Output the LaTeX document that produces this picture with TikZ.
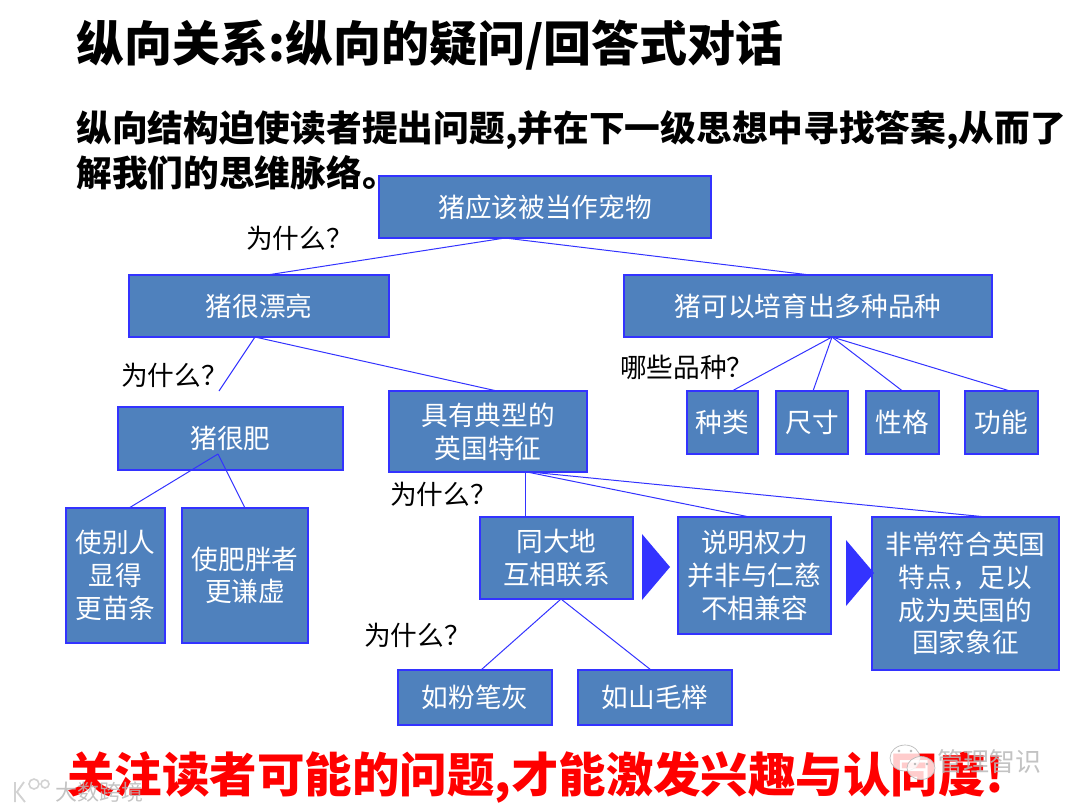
\documentclass[tikz,border=0pt]{standalone}
\usepackage{fontspec}
\setmainfont{Noto Sans CJK SC}
\newfontfamily\heavy{Noto Sans CJK SC Black}
\usetikzlibrary{calc}
\definecolor{boxfill}{HTML}{4F81BD}
\definecolor{boxline}{HTML}{3333FF}
\definecolor{wmline}{HTML}{B8B8B8}
\newcommand{\fs}[2]{\fontsize{#1}{#2}\selectfont}
\tikzset{
  bx/.style={draw=boxline,line width=0.8pt,fill=boxfill,text=white,align=center,inner sep=0pt,outer sep=0pt,font=\fs{20}{24.5}},
  link/.style={draw=boxline,line width=0.75pt},
  ask/.style={anchor=west,inner sep=0pt,text=black,font=\fs{20}{24}},
  tri/.style={fill=boxline,draw=none},
  head/.style={anchor=west,inner sep=0pt,text=black,font=\heavy\fs{36}{44}},
  sub/.style={anchor=west,inner sep=0pt,text=black,font=\heavy\fs{26.8}{33.5},align=left},
  foot/.style={anchor=west,inner sep=0pt,text=red,font=\heavy\fs{35.6}{42}},
  wmark/.style={anchor=west,inner sep=0pt,text=wmline,opacity=.85},
  bubble/.style={draw=wmline,fill=white,fill opacity=.8,line width=0.5pt},
  logo/.style={draw=wmline!70,line width=1.4pt,opacity=.9},
  dot/.style={fill=wmline,draw=none},
}
\newcommand{\bxnode}[6]{\node[bx,minimum width={(#4-#2)*0.75pt},minimum height={(#5-#3)*0.75pt}] (#1) at ({(#2+#4)/2},{(#3+#5)/2}) {#6};}
\begin{document}
\begin{tikzpicture}[x=0.75pt,y=-0.75pt]
\useasboundingbox (0,0) rectangle (1080,810);
\node[head] (title) at (76,45) {纵向关系:纵向的疑问/回答式对话};
\node[sub] (subtitle) at (76,150) {纵向结构迫使读者提出问题,并在下一级思想中寻找答案,从而了\\解我们的思维脉络。};
\bxnode{root}{379}{176}{711}{238}{猪应该被当作宠物}
\bxnode{pretty}{129}{275}{389}{337}{猪很漂亮}
\bxnode{many}{624}{275}{992}{337}{猪可以培育出多种品种}
\bxnode{fat}{118}{407}{343}{470}{猪很肥}
\bxnode{brit}{389}{391}{587}{472}{具有典型的\\英国特征}
\bxnode{kinds}{687}{391}{758}{454}{种类}
\bxnode{size}{776}{391}{848}{454}{尺寸}
\bxnode{char}{866}{391}{939}{454}{性格}
\bxnode{func}{965}{391}{1038}{454}{功能}
\bxnode{slim}{66}{508}{165}{643}{使别人\\显得\\更苗条}
\bxnode{humble}{182}{508}{308}{643}{使肥胖者\\更谦虚}
\bxnode{earth}{480}{517}{633}{599}{同大地\\互相联系}
\bxnode{power}{678}{517}{831}{634}{说明权力\\并非与仁慈\\不相兼容}
\bxnode{fit}{872}{517}{1059}{670}{非常符合英国\\特点，足以\\成为英国的\\国家象征}
\bxnode{chalk}{398}{670}{552}{725}{如粉笔灰}
\bxnode{birch}{578}{670}{732}{725}{如山毛榉}
\coordinate (fatend) at (219,391);
\draw[link] ($(root.south)+(-40,0)$) -- ($(pretty.north)+(8,0)$);
\draw[link] ($(root.south)+(-40,0)$) -- ($(many.north)+(2,0)$);
\draw[link] ($(many.south)+(24,0)$) -- ($(kinds.north)+(9.5,0)$);
\draw[link] ($(many.south)+(24,0)$) -- ($(size.north)+(1,0)$);
\draw[link] ($(many.south)+(24,0)$) -- ($(char.north)+(0,0)$);
\draw[link] ($(many.south)+(24,0)$) -- ($(func.north)+(8.5,0)$);
\draw[link] ($(pretty.south)+(-4,0)$) -- (fatend);
\draw[link] ($(pretty.south)+(-4,0)$) -- ($(brit.north)+(9,0)$);
\draw[link] ($(fat.center)+(-12.5,15.5)$) -- ($(slim.north)+(13.5,0)$);
\draw[link] ($(fat.center)+(-12.5,15.5)$) -- ($(humble.north)+(0,0)$);
\draw[link] ($(brit.south)+(37,0)$) -- ($(earth.north)+(-31.5,0)$);
\draw[link] ($(brit.south)+(39,0)$) -- ($(power.north)+(-5,0)$);
\draw[link] ($(brit.south)+(42,0)$) -- ($(fit.north)+(21,0)$);
\draw[link] ($(earth.south)+(4.5,0)$) -- ($(chalk.north)+(6,0)$);
\draw[link] ($(earth.south)+(4.5,0)$) -- ($(birch.north)+(-4,0)$);
\fill[tri] (642,534) -- (670,567) -- (642,600) -- cycle;
\fill[tri] (846,540) -- (874,573) -- (846,606) -- cycle;
\node[ask] (q1) at (246,238) {为什么？};
\node[ask] (q2) at (121,375) {为什么？};
\node[ask] (q3) at (390,494) {为什么？};
\node[ask] (q4) at (364,635) {为什么？};
\node[ask] (q5) at (620,367) {哪些品种？};
\node[foot] (bottom) at (67,777) {关注读者可能的问题,才能激发兴趣与认同度!};
% watermarks
\draw[bubble] (905,758) ellipse (15 and 13);
\fill[dot] (899,751) circle (1.3);
\fill[dot] (911,751) circle (1.3);
\draw[bubble] (921,768) ellipse (14 and 11.5);
\fill[dot] (915,764) circle (1.3);
\fill[dot] (927,764) circle (1.3);
\node[wmark,font=\fs{19.5}{24}] (wm1) at (937,762) {管理智识};
\draw[logo] (15,782) -- (15,802) (24,782) -- (17,792) -- (25,802);
\draw[logo,line width=1.2pt] (34,784) circle (5) (45,784) circle (4);
\node[wmark,font=\fs{16.5}{20}] (wm2) at (55,792) {大数跨境};
\end{tikzpicture}
\end{document}
